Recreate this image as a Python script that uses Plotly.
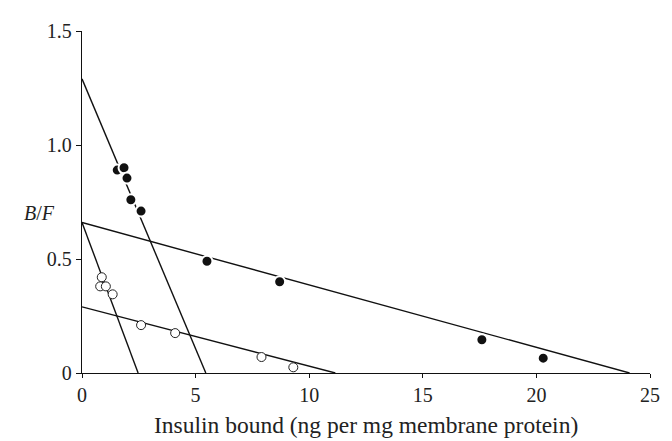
import plotly.graph_objects as go

# Filled circles, steep component
filled_steep_x = [1.55, 1.85, 1.98, 2.15, 2.6]
filled_steep_y = [0.89, 0.90, 0.855, 0.76, 0.71]
# Filled circles, shallow component
filled_shallow_x = [5.5, 8.7, 17.6, 20.3]
filled_shallow_y = [0.49, 0.40, 0.146, 0.065]
# Open circles, steep component
open_steep_x = [0.87, 0.8, 1.05, 1.35]
open_steep_y = [0.42, 0.38, 0.38, 0.345]
# Open circles, shallow component
open_shallow_x = [2.6, 4.1, 7.9, 9.3]
open_shallow_y = [0.21, 0.175, 0.07, 0.025]

# Fitted straight lines: (y-intercept, x-intercept)
line_y0 = [1.29, 0.66, 0.66, 0.29]
line_x0 = [5.45, 24.1, 2.47, 11.15]

x_ticks = [0, 5, 10, 15, 20, 25]
y_ticks = [0, 0.5, 1.0, 1.5]
y_tick_labels = ["0", "0.5", "1.0", "1.5"]

fig = go.Figure()
for b, a in zip(line_y0, line_x0):
    fig.add_trace(go.Scatter(x=[0, a], y=[b, 0], mode="lines",
                             line=dict(color="#111", width=1.4),
                             showlegend=False, hoverinfo="skip"))

for xs, ys in [(filled_steep_x, filled_steep_y), (filled_shallow_x, filled_shallow_y)]:
    fig.add_trace(go.Scatter(x=xs, y=ys, mode="markers",
                             marker=dict(size=11, color="#111",
                                         line=dict(color="white", width=2)),
                             showlegend=False))
for xs, ys in [(open_steep_x, open_steep_y), (open_shallow_x, open_shallow_y)]:
    fig.add_trace(go.Scatter(x=xs, y=ys, mode="markers",
                             marker=dict(size=9, color="white",
                                         line=dict(color="#222", width=1)),
                             showlegend=False))

serif = "Liberation Serif, Times New Roman, serif"
tick_font = dict(family=serif, size=20, color="#222")
title_font = dict(family=serif, size=23.5, color="#222")
fig.update_layout(
    width=672, height=441,
    margin=dict(l=74, r=30, t=16, b=76),
    paper_bgcolor="white", plot_bgcolor="white",
    font=tick_font,
    xaxis=dict(range=[0, 25], tickvals=x_ticks, showgrid=False, zeroline=False,
               showline=True, linecolor="#111", linewidth=1.4,
               ticks="outside", ticklen=4, tickcolor="#111", tickfont=tick_font),
    yaxis=dict(range=[0, 1.5], tickvals=y_ticks, ticktext=y_tick_labels,
               showgrid=False, zeroline=False,
               showline=True, linecolor="#111", linewidth=1.4,
               ticks="outside", ticklen=5, tickcolor="#111", tickfont=tick_font),
    annotations=[
        dict(text="<i>B</i>/<i>F</i>", xref="paper", yref="y",
             x=-0.105, y=0.70, showarrow=False,
             font=dict(family=serif, size=20, color="#222")),
        dict(text="Insulin bound (ng per mg membrane protein)", xref="paper",
             yref="paper", x=0.5, y=-0.152, yanchor="middle", xanchor="center",
             showarrow=False, font=title_font),
    ],
)
fig.write_html("out.html")
